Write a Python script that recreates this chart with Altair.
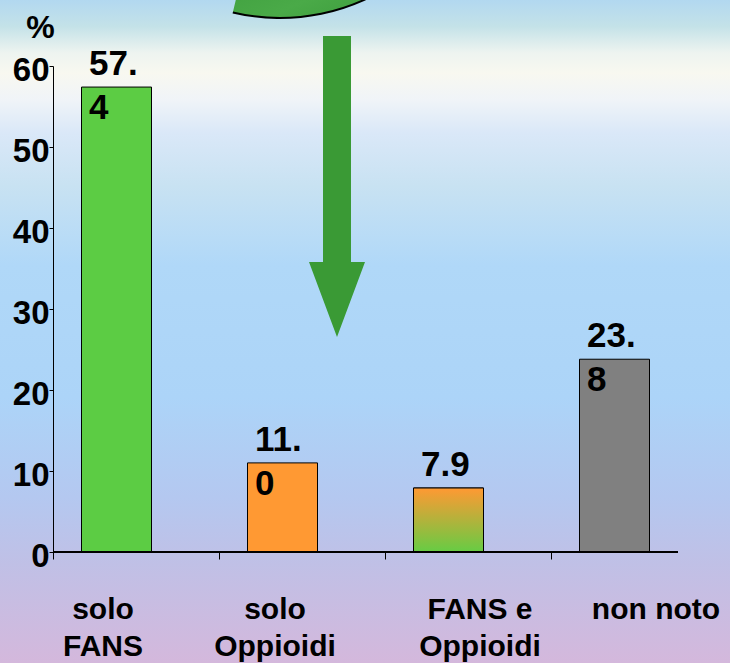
import altair as alt
import pandas as pd

# ---- data ----
categories = ["solo|FANS", "solo|Oppioidi", "FANS e|Oppioidi", "non noto"]
values = [57.4, 11.0, 7.9, 23.8]
bar_colors = ["#5ccc44", "#ff9933", "#ff9933", "#808080"]
gradient_bar = [False, False, True, False]
y_ticks = [0, 10, 20, 30, 40, 50, 60]

df = pd.DataFrame({"cat": categories, "val": values, "col": bar_colors, "grad": gradient_bar})
one = pd.DataFrame({"k": [0]})

FONT = "Liberation Sans"
W, H = 664, 486
PAD = {"left": 53, "top": 66, "right": 13, "bottom": 111}

bg_grad = alt.Gradient(
    gradient="linear", x1=0, x2=0, y1=0, y2=1,
    stops=[
        alt.GradientStop(color="#b2d8f0", offset=0.0),
        alt.GradientStop(color="#c4e2e8", offset=0.04),
        alt.GradientStop(color="#eef4f0", offset=0.08),
        alt.GradientStop(color="#f8f8f0", offset=0.11),
        alt.GradientStop(color="#f0f4f8", offset=0.15),
        alt.GradientStop(color="#dae8f8", offset=0.20),
        alt.GradientStop(color="#c8e2f2", offset=0.28),
        alt.GradientStop(color="#b0d8f8", offset=0.40),
        alt.GradientStop(color="#acd4f8", offset=0.60),
        alt.GradientStop(color="#b4c8f0", offset=0.75),
        alt.GradientStop(color="#c0c0e6", offset=0.85),
        alt.GradientStop(color="#d4b8dc", offset=1.0),
    ],
)

x_axis = alt.Axis(
    title=None, domain=False, ticks=True, tickSize=7, tickColor="black", tickWidth=1,
    bandPosition=0, labelAngle=0, labelFont=FONT, labelFontSize=30, labelFontWeight="bold",
    labelColor="black", labelExpr="split(datum.label, '|')", labelBaseline="alphabetic",
    labelPadding=59, labelLineHeight=37, labelAlign="center",
    labelOffset={"condition": [
        {"test": "datum.value == 'solo|FANS'", "value": -33},
        {"test": "datum.value == 'solo|Oppioidi'", "value": -27},
        {"test": "datum.value == 'FANS e|Oppioidi'", "value": 12},
    ], "value": 22},
    zindex=1,
)

y_axis = alt.Axis(
    values=y_ticks, grid=False, domain=True, domainColor="black", domainWidth=1,
    ticks=True, tickSize=4, tickColor="black", tickWidth=1,
    labelFont=FONT, labelFontSize=33, labelFontWeight="bold", labelColor="black",
    labelPadding=0, labelOffset=4,
    title="%", titleAngle=0, titleX=-13, titleY=-29, titleAlign="center",
    titleBaseline="alphabetic", titleFont=FONT, titleFontSize=32, titleFontWeight="bold",
    titleColor="black", zindex=1,
)

x_enc = alt.X("cat:N", sort=categories, scale=alt.Scale(paddingInner=0, paddingOuter=0), axis=x_axis)
y_enc = alt.Y("val:Q", scale=alt.Scale(domain=[0, 60]), axis=y_axis)

background = alt.Chart(one).mark_rect(fill=bg_grad).encode(
    x=alt.value(-53), x2=alt.value(677), y=alt.value(-66), y2=alt.value(597)
)

arc_grad = alt.Gradient(
    gradient="linear", x1=0, x2=1, y1=0, y2=1,
    stops=[alt.GradientStop(color="#3a9a3a", offset=0),
           alt.GradientStop(color="#4aaa48", offset=0.6),
           alt.GradientStop(color="#3a9a3a", offset=1)],
)
curved = alt.Chart(one).mark_arc(theta=2.5, theta2=3.375, radius=204, radius2=160,
                                 fill=arc_grad, strokeWidth=0).encode(
    x=alt.value(227), y=alt.value(-252)
)
curved_edge = alt.Chart(one).mark_arc(theta=2.5, theta2=3.375, radius=205, radius2=203,
                                      fill="black", strokeWidth=0).encode(
    x=alt.value(227), y=alt.value(-252)
)

arrow = alt.Chart(one).mark_point(
    shape="M-0.5,-8.07L0.5,-8.07L0.5,0L1,0L0,2.68L-1,0L-0.5,0Z",
    size=3136, filled=True, fill="#3a9a35", opacity=1, strokeWidth=0,
).encode(x=alt.value(284), y=alt.value(196))

bars = alt.Chart(df).mark_bar(width=70, xOffset=-19.5, stroke="black", strokeWidth=1).encode(
    x=x_enc, y=y_enc, color=alt.Color("col:N", scale=None)
)

bar_grad = alt.Gradient(
    gradient="linear", x1=0, x2=0, y1=0, y2=1,
    stops=[alt.GradientStop(color="#ff9933", offset=0),
           alt.GradientStop(color="#66cc44", offset=1)],
)
grad_bar = alt.Chart(df).transform_filter("datum.grad").mark_bar(
    width=70, xOffset=-19.5, stroke="black", strokeWidth=1, fill=bar_grad
).encode(x=x_enc, y=y_enc)

lbl = alt.Chart(df).transform_calculate(
    t="format(datum.val, '.1f')"
).transform_calculate(
    l1="length(datum.t) > 3 ? substring(datum.t, 0, 3) : datum.t",
    l2="length(datum.t) > 3 ? substring(datum.t, 3) : ''",
)
text1 = lbl.mark_text(align="left", baseline="alphabetic", dx=-47, dy=-12, font=FONT,
                      fontSize=35, fontWeight="bold", color="black").encode(
    x=x_enc, y=y_enc, text="l1:N")
text2 = lbl.mark_text(align="left", baseline="alphabetic", dx=-47, dy=32, font=FONT,
                      fontSize=35, fontWeight="bold", color="black").encode(
    x=x_enc, y=y_enc, text="l2:N")

x_line = alt.Chart(one).mark_rule(color="black", strokeWidth=2).encode(
    x=alt.value(0), x2=alt.value(625), y=alt.value(H)
)

chart = alt.layer(
    background, curved, curved_edge, arrow, bars, grad_bar, text1, text2, x_line
).properties(
    width=W, height=H, padding=PAD, autosize="none", background="#b0d8f8"
).configure_view(stroke=None)

chart.save("out.html", embed_options={"renderer": "svg", "actions": False})
